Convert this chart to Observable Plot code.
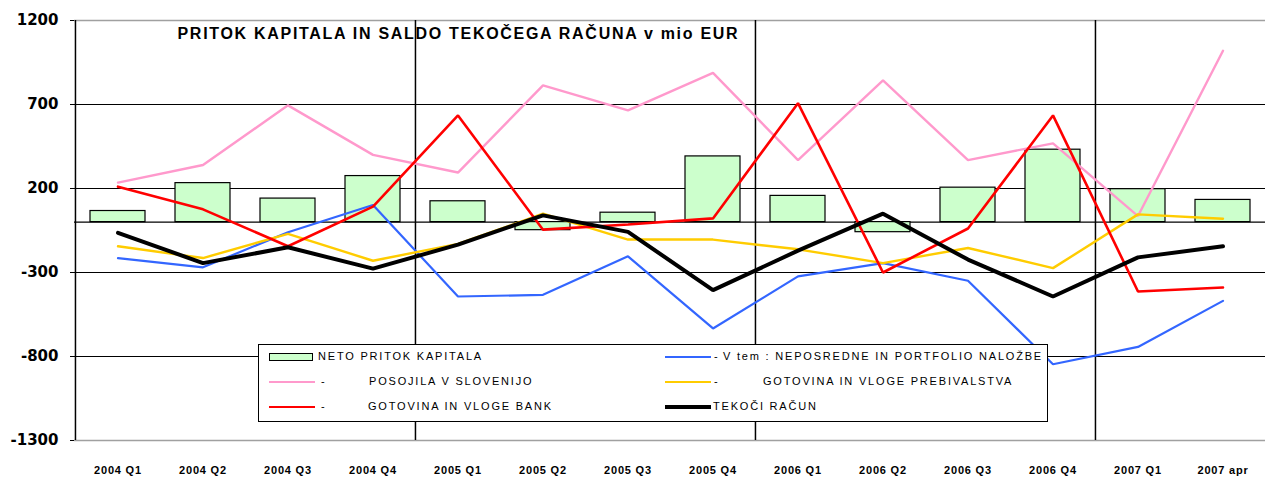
<!DOCTYPE html>
<html><head><meta charset="utf-8">
<script src="https://cdn.jsdelivr.net/npm/d3@7"></script>
<script src="https://cdn.jsdelivr.net/npm/@observablehq/plot@0.6"></script>
<style>
body{margin:0;background:#fff;}
#wrap{position:relative;width:1265px;height:478px;overflow:hidden;}
.leg{position:absolute;left:258px;top:344px;width:790px;height:78px;border:1.5px solid #000;background:#fff;box-sizing:border-box;}
.lt{position:absolute;font-family:Arial,'Liberation Sans',sans-serif;font-size:11px;letter-spacing:1.8px;line-height:12px;white-space:pre;color:#000;}
.sw{position:absolute;box-sizing:border-box;}
</style></head><body><div id="wrap"></div>
<script>
const periods = ["2004 Q1","2004 Q2","2004 Q3","2004 Q4","2005 Q1","2005 Q2","2005 Q3","2005 Q4","2006 Q1","2006 Q2","2006 Q3","2006 Q4","2007 Q1","2007 apr"];
const neto = [66,232,140,274,124,-48,56,391,156,-60,205,431,196,132];
const portfolio = [-214,-269,-60,102,-443,-433,-204,-633,-323,-244,-349,-846,-743,-469];
const posojila = [235,340,695,400,295,814,665,888,369,844,369,469,36,1020];
const prebivalstvo = [-144,-214,-70,-230,-130,50,-104,-104,-162,-244,-154,-274,46,20];
const banke = [211,76,-144,92,635,-45,-14,22,708,-300,-38,635,-413,-389];
const tekoci = [-64,-244,-150,-277,-134,40,-58,-405,-170,50,-223,-443,-210,-144];
const yTicks = [-1300,-800,-300,200,700,1200];
const separators = ["2004 Q1","2005 Q1","2006 Q1","2007 Q1"];
const title = "PRITOK KAPITALA IN SALDO TEKOČEGA RAČUNA v mio EUR";
const barLabel = "NETO PRITOK KAPITALA";

const series = [
  {name:"V tem : NEPOSREDNE IN PORTFOLIO NALOŽBE", values:portfolio, color:"#3366FF", w:2.2},
  {name:"POSOJILA V SLOVENIJO", values:posojila, color:"#FF99CC", w:2.4},
  {name:"GOTOVINA IN VLOGE PREBIVALSTVA", values:prebivalstvo, color:"#FFCC00", w:2.4},
  {name:"GOTOVINA IN VLOGE BANK", values:banke, color:"#FF0000", w:2.6},
  {name:"TEKOČI RAČUN", values:tekoci, color:"#000000", w:4}
];
const bars = periods.map((p,i)=>({period:p, value:neto[i]}));

const W = 1265, H = 478, mL = 74, mR = 0, mT = 20, mB = 38;
const step = (W - mL - mR) / periods.length;

const lineMarks = series.map(s => Plot.line(periods.map((p,i)=>({period:p, value:s.values[i]})),
  {x:"period", y:"value", stroke:s.color, strokeWidth:s.w, strokeLinejoin:"miter"}));

const chart = Plot.plot({
  width:W, height:H, marginLeft:mL, marginRight:mR, marginTop:mT, marginBottom:mB,
  x:{type:"band", domain:periods, padding:0, label:null},
  y:{domain:[-1300,1200], label:null},
  style:{fontFamily:"Arial, 'Liberation Sans', sans-serif", background:"#fff", color:"#000"},
  marks:[
    Plot.ruleY([700,200,-300,-800,0], {stroke:"#000", strokeWidth:1.2}),
    Plot.ruleY([1200,-1300], {stroke:"#a0a0a0", strokeWidth:1.5}),
    Plot.ruleX(separators, {x:d=>d, dx:-step/2, stroke:"#000", strokeWidth:1.5}),
    Plot.barY(bars, {x:"period", y:"value", fill:"#CCFFCC", stroke:"#000", strokeWidth:1.2, insetLeft:15, insetRight:15}),
    ...lineMarks,
    Plot.axisY({ticks:yTicks, tickSize:4, tickPadding:12, fontSize:15, fontWeight:"bold", fontFamily:"'DejaVu Sans', sans-serif", tickFormat:d=>String(d)}),
    Plot.axisX({tickSize:0, tickPadding:26, fontSize:11, fontWeight:"bold", fontFamily:"Arial, 'Liberation Sans', sans-serif"}),
    Plot.text([title], {text:d=>d, frameAnchor:"top-left", dx:103, dy:13, lineAnchor:"middle", textAnchor:"start", fontSize:16, fontWeight:"bold", fill:"#000"})
  ]
});
const wrap = document.getElementById("wrap");
wrap.appendChild(chart);
// widen title letters and x tick labels to match reference
chart.querySelectorAll("text").forEach(t => {
  if (t.textContent === title) t.setAttribute("letter-spacing", "1.7");
  if (periods.includes(t.textContent)) t.setAttribute("letter-spacing", "0.8");
});

// legend
const leg = document.createElement("div");
leg.className = "leg";
wrap.appendChild(leg);
// positions relative to legend box: swatch x, dash x, text x
const legendItems = [
  {label:barLabel, kind:"bar", sx:10, dash:null, tx:59, row:0},
  {label:series[0].name, s:series[0], sx:406, dash:455, tx:464, row:0},
  {label:series[1].name, s:series[1], sx:10, dash:62, tx:110, row:1},
  {label:series[2].name, s:series[2], sx:406, dash:455, tx:504, row:1},
  {label:series[3].name, s:series[3], sx:10, dash:62, tx:109, row:2},
  {label:series[4].name, s:series[4], sx:406, dash:null, tx:454, row:2}
];
const rowY = [12, 37, 62];
legendItems.forEach(it => {
  const yc = rowY[it.row];
  const sw = document.createElement("div");
  sw.className = "sw";
  if (it.kind === "bar") {
    sw.style.cssText = `left:${it.sx}px;top:${yc-4}px;width:44px;height:8px;background:#CCFFCC;border:1.5px solid #000;`;
  } else {
    const h = it.s.w;
    sw.style.cssText = `left:${it.sx}px;top:${yc-h/2}px;width:46px;height:${h}px;background:${it.s.color};`;
  }
  leg.appendChild(sw);
  if (it.dash !== null) {
    const d = document.createElement("div");
    d.className = "lt"; d.textContent = "-";
    d.style.left = it.dash + "px"; d.style.top = (yc - 7) + "px";
    leg.appendChild(d);
  }
  const t = document.createElement("div");
  t.className = "lt";
  t.textContent = it.label;
  t.style.left = it.tx + "px";
  t.style.top = (yc - 7) + "px";
  leg.appendChild(t);
});
</script></body></html>
